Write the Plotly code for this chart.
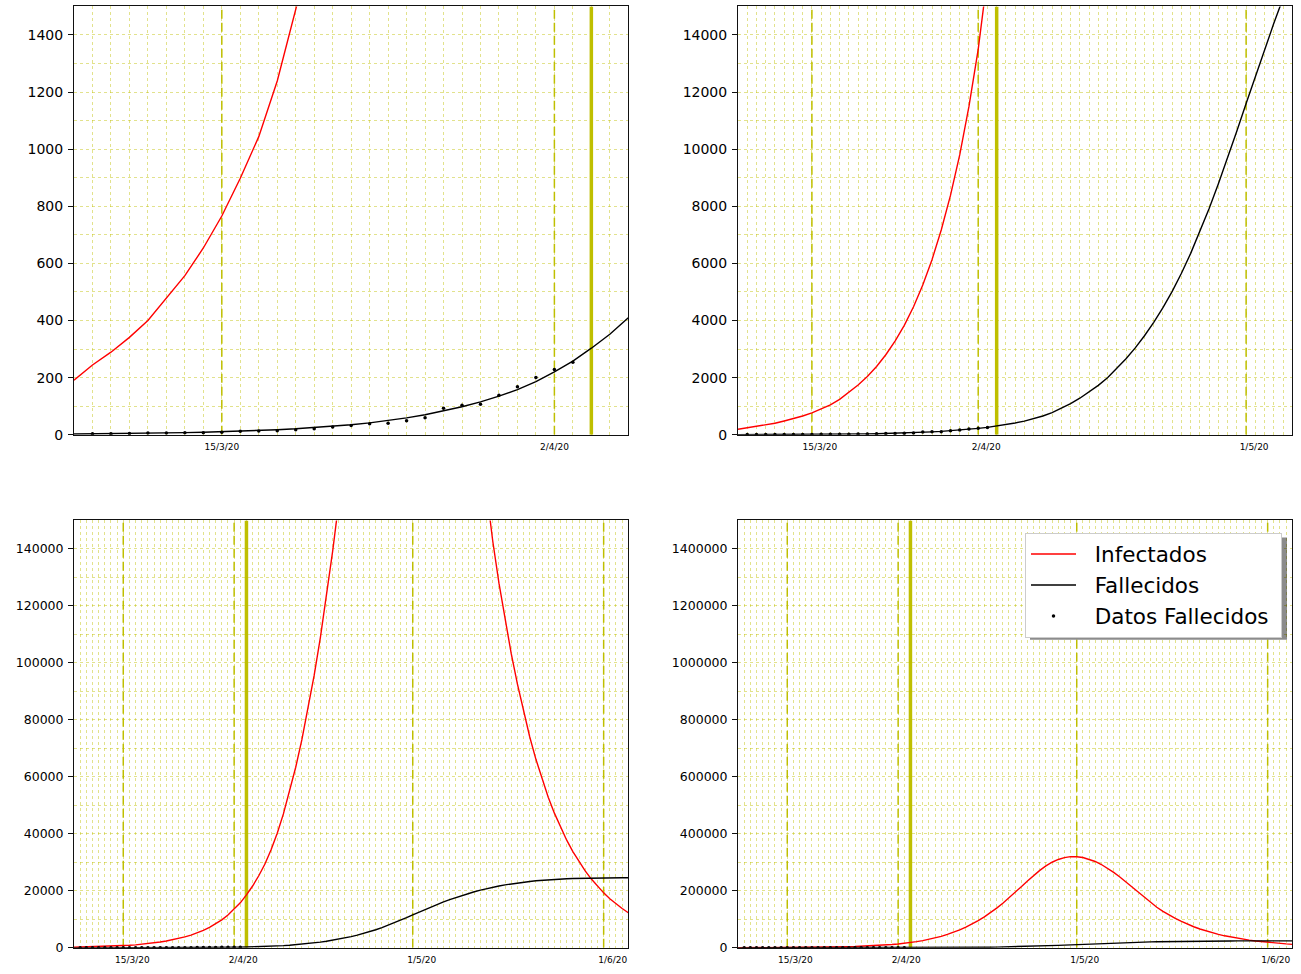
import plotly.graph_objects as go
import pandas as pd

# ---------------- data ----------------
inicio = '2020-03-07'
infectados = [191, 244, 289, 341, 400, 480, 557, 654, 766, 898,
              1044, 1239, 1480, 1740, 2040, 2390, 2800, 3280, 3830, 4480,
              5240, 6130, 7170, 8380, 9800, 11500, 13500, 15800, 18600, 21700,
              25300, 29400, 34400, 40200, 47000, 54716, 63381, 73052, 83778, 95696,
              108872, 123368, 139236, 156518, 175067, 194643, 214683, 234666, 253955, 271826,
              287483, 300414, 310183, 316765, 319949, 319900, 317034, 311378, 303083, 292366,
              279502, 264808, 248639, 231366, 213364, 195000, 176797, 159174, 142593, 127960,
              114870, 103120, 92570, 82761, 73992, 66152, 59143, 52876, 47273, 42264,
              37786, 33782, 30203, 27002, 24141, 21583, 19296, 17251, 15423, 13789,
              12328]
fallecidos = [2.5, 3.0, 3.6, 4.3, 5.1, 6.1, 7.3, 8.7, 10.3, 12.3,
              14.6, 17.4, 20.7, 24.7, 29.4, 35, 41.6, 49.5, 58.8, 69.8,
              83, 98, 115, 135, 158, 186, 220, 258, 303, 352,
              410, 477, 557, 655, 775, 920, 1088, 1278, 1490, 1728,
              1996, 2311, 2661, 3041, 3466, 3936, 4451, 5023, 5656, 6351,
              7108, 7922, 8787, 9693, 10635, 11603, 12553, 13493, 14408, 15288,
              16128, 16928, 17688, 18403, 19073, 19695, 20270, 20798, 21280, 21717,
              22111, 22464, 22779, 23058, 23304, 23520, 23709, 23874, 24017, 24141,
              24240, 24320, 24385, 24437, 24479, 24513, 24540, 24562, 24580, 24594,
              24605]
inicio_datos = '2020-03-08'
datos_fallecidos = [3, 3, 4, 6, 6, 7, 7, 9, 12, 13, 14, 17, 21, 27, 32, 38, 40,
                    49, 59, 93, 103, 107, 138, 168, 200, 228, 254]

tick_fechas = ['2020-03-15', '2020-04-02', '2020-05-01', '2020-06-01']
tick_textos = ['15/3/20', '2/4/20', '1/5/20', '1/6/20']
fecha_hoy = '2020-04-04'

panel_fin = ['2020-04-06', '2020-05-06', '2020-06-05', '2020-06-05']
panel_ymax = [1500, 15000, 150000, 1500000]
panel_dtick = [200, 2000, 20000, 200000]

nombres = ['Infectados', 'Fallecidos', 'Datos Fallecidos']

fechas = pd.date_range(inicio, periods=len(infectados), freq='D')
fechas_datos = pd.date_range(inicio_datos, periods=len(datos_fallecidos), freq='D')

# ---------------- layout ----------------
W, H = 1301, 974
boxes = [(74, 628.3, 6.5, 438.3), (738, 1292.3, 6.5, 438.3),
         (74, 628.3, 524.7, 955.7), (738, 1292.3, 524.7, 955.7)]
label_shift_px = [0, 8, 9, 8]      # tick labels sit slightly right of the date lines
ytick_size = [14, 14, 12.5, 12.5]
GRID = 'rgba(191,191,0,0.45)'
OLIVE = '#bfbf00'
FONT = 'DejaVu Sans'
NB = '\u00a0\u00a0'

fig = go.Figure()
layout = dict(width=W, height=H, margin=dict(l=0, r=0, t=0, b=0),
              paper_bgcolor='white', plot_bgcolor='white',
              font=dict(family=FONT, color='black'), showlegend=True)

for i in range(4):
    sfx = '' if i == 0 else str(i + 1)
    xa, ya = 'x' + sfx, 'y' + sfx
    x0, x1, y0, y1 = boxes[i]
    t_ini, fin = pd.Timestamp(inicio), pd.Timestamp(panel_fin[i])
    ndays = (fin - t_ini).days
    shift = pd.Timedelta(days=label_shift_px[i] * ndays / (x1 - x0))
    tv_lines = [t for t in tick_fechas if pd.Timestamp(t) <= fin]
    tv = [pd.Timestamp(t) + shift for t in tv_lines]
    tt = [tick_textos[k] for k, t in enumerate(tick_fechas) if pd.Timestamp(t) <= fin]
    layout['xaxis' + sfx] = dict(
        domain=[x0 / W, x1 / W], anchor=ya, type='date',
        range=[inicio, panel_fin[i]], tickmode='array', tickvals=tv, ticktext=tt,
        ticks='', tickfont=dict(size=9, family=FONT), ticklabelstandoff=3,
        showgrid=False,
        minor=dict(dtick=86400000, tick0=inicio, showgrid=True, gridcolor=GRID,
                   griddash='dot', gridwidth=1, ticks=''),
        showline=True, mirror=True, linecolor='#111', linewidth=1, zeroline=False)
    layout['yaxis' + sfx] = dict(
        domain=[1 - y1 / H, 1 - y0 / H], anchor=xa, range=[0, panel_ymax[i]],
        tick0=0, dtick=panel_dtick[i], tickformat='d',
        ticks='outside', ticklen=5, tickwidth=1, tickcolor='#111',
        tickfont=dict(size=ytick_size[i], family=FONT), ticklabelstandoff=2,
        showgrid=True, gridcolor=GRID, griddash='dot', gridwidth=1,
        minor=dict(dtick=panel_dtick[i] / 2, tick0=0, showgrid=True, gridcolor=GRID,
                   griddash='dot', gridwidth=1, ticks=''),
        showline=True, mirror=True, linecolor='#111', linewidth=1, zeroline=False)

    # vertical reference lines (dashed dates, thick "today" line)
    for t in tv_lines:
        fig.add_trace(go.Scatter(x=[t, t], y=[0, panel_ymax[i]], mode='lines',
                                 line=dict(color=OLIVE, width=1.5, dash='9px,4px'),
                                 xaxis=xa, yaxis=ya, showlegend=False, hoverinfo='skip'))
    fig.add_trace(go.Scatter(x=[fecha_hoy, fecha_hoy], y=[0, panel_ymax[i]], mode='lines',
                             line=dict(color=OLIVE, width=3.5),
                             xaxis=xa, yaxis=ya, showlegend=False, hoverinfo='skip'))

for i in range(4):
    sfx = '' if i == 0 else str(i + 1)
    xa, ya = 'x' + sfx, 'y' + sfx
    first = (i == 0)
    fig.add_trace(go.Scatter(x=fechas, y=infectados, mode='lines', name=NB + nombres[0],
                             line=dict(color='red', width=1.4), xaxis=xa, yaxis=ya,
                             showlegend=first))
    fig.add_trace(go.Scatter(x=fechas, y=fallecidos, mode='lines', name=NB + nombres[1],
                             line=dict(color='black', width=1.4), xaxis=xa, yaxis=ya,
                             showlegend=first))
    fig.add_trace(go.Scatter(x=fechas_datos, y=datos_fallecidos, mode='markers',
                             name=NB + nombres[2] + '\u00a0',
                             marker=dict(color='black', size=3.5), xaxis=xa, yaxis=ya,
                             showlegend=first))

# legend shadow
layout['shapes'] = [dict(type='rect', xref='paper', yref='paper',
                         x0=1030 / W, x1=1287 / W, y0=1 - 645 / H, y1=1 - 542 / H,
                         fillcolor='rgba(0,0,0,0.45)', line=dict(width=0), layer='above')]
layout['legend'] = dict(x=1282 / W, y=1 - 537 / H, xanchor='right', yanchor='top',
                        bgcolor='white', bordercolor='#cccccc', borderwidth=1,
                        font=dict(size=21.5, family=FONT), itemwidth=45)
fig.update_layout(**layout)
fig.write_html('out.html', config={'displayModeBar': False},
               post_script="document.body.style.margin='0px';")
